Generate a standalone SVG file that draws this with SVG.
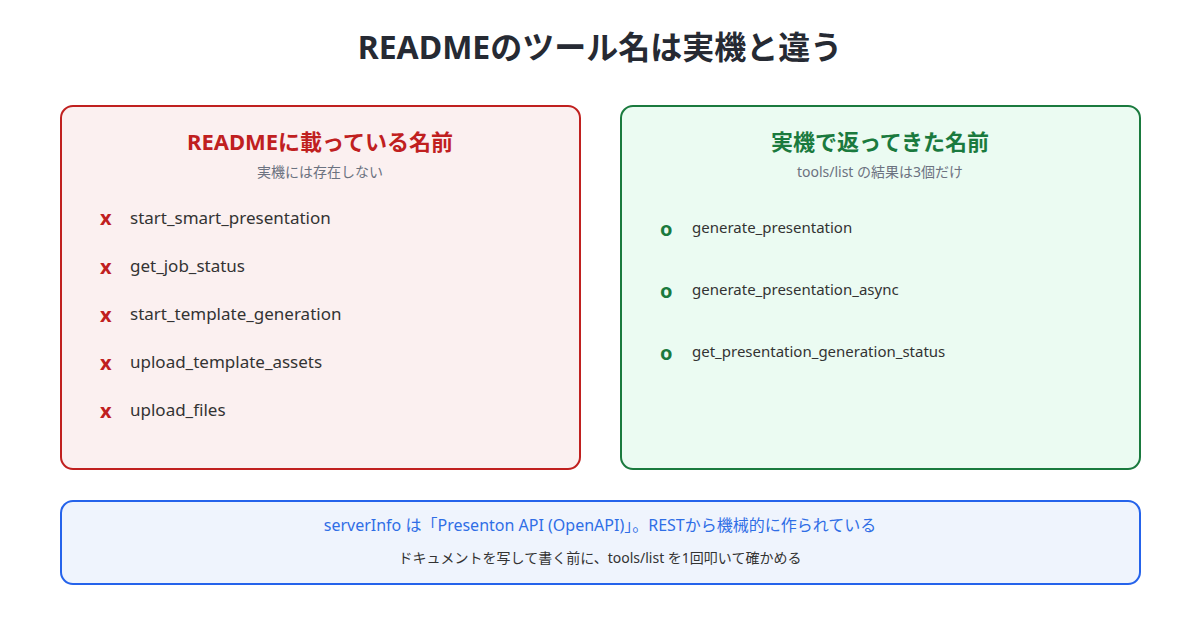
<svg xmlns="http://www.w3.org/2000/svg" width="1200" height="630" viewBox="0 0 1200 630">
<style>
text{font-family:"Noto Sans","Noto Sans CJK JP",sans-serif}
.t{font-size:32px;font-weight:bold;fill:#262a33}
.h{font-size:22px;font-weight:bold}
.s{font-size:14px;fill:#6b7280}
.i{font-size:17px;fill:#333}
.g{font-size:15px;fill:#333}
.x{font-size:20px;font-weight:bold;fill:#c0201f}
.o{font-size:20px;font-weight:bold;fill:#1a7a3e}
</style>
<rect width="1200" height="630" fill="#fff"/>
<text class="t" x="600" y="59" text-anchor="middle">READMEのツール名は実機と違う</text>
<g id="readme">
<rect x="61" y="106" width="519" height="363" rx="12" fill="#fbf0f0" stroke="#c0201f" stroke-width="2"/>
<text class="h" x="320" y="150" text-anchor="middle" fill="#c0201f">READMEに載っている名前</text>
<text class="s" x="320" y="177" text-anchor="middle">実機には存在しない</text>
<text class="x" x="100" y="225">x</text><text class="i" x="130" y="224">start_smart_presentation</text>
<text class="x" x="100" y="274">x</text><text class="i" x="130" y="272">get_job_status</text>
<text class="x" x="100" y="322">x</text><text class="i" x="130" y="320">start_template_generation</text>
<text class="x" x="100" y="370">x</text><text class="i" x="130" y="368">upload_template_assets</text>
<text class="x" x="100" y="418">x</text><text class="i" x="130" y="416">upload_files</text>
</g>
<g id="actual">
<rect x="621" y="106" width="519" height="363" rx="12" fill="#ebfbf2" stroke="#1a7a3e" stroke-width="2"/>
<text class="h" x="880" y="150" text-anchor="middle" fill="#1a7a3e">実機で返ってきた名前</text>
<text class="s" x="880" y="177" text-anchor="middle">tools/list の結果は3個だけ</text>
<text class="o" x="660" y="236">o</text><text class="g" x="692" y="233">generate_presentation</text>
<text class="o" x="660" y="298">o</text><text class="g" x="692" y="295">generate_presentation_async</text>
<text class="o" x="660" y="360">o</text><text class="g" x="692" y="357">get_presentation_generation_status</text>
</g>
<g id="note">
<rect x="61" y="501" width="1079" height="83" rx="12" fill="#eff4fd" stroke="#2563eb" stroke-width="2"/>
<text x="600" y="531" text-anchor="middle" font-size="16" fill="#2f6ee6">serverInfo は「Presenton API (OpenAPI)」。RESTから機械的に作られている</text>
<text x="600" y="563" text-anchor="middle" font-size="14" fill="#333">ドキュメントを写して書く前に、tools/list を1回叩いて確かめる</text>
</g>
<g id="connectors"/>
</svg>
